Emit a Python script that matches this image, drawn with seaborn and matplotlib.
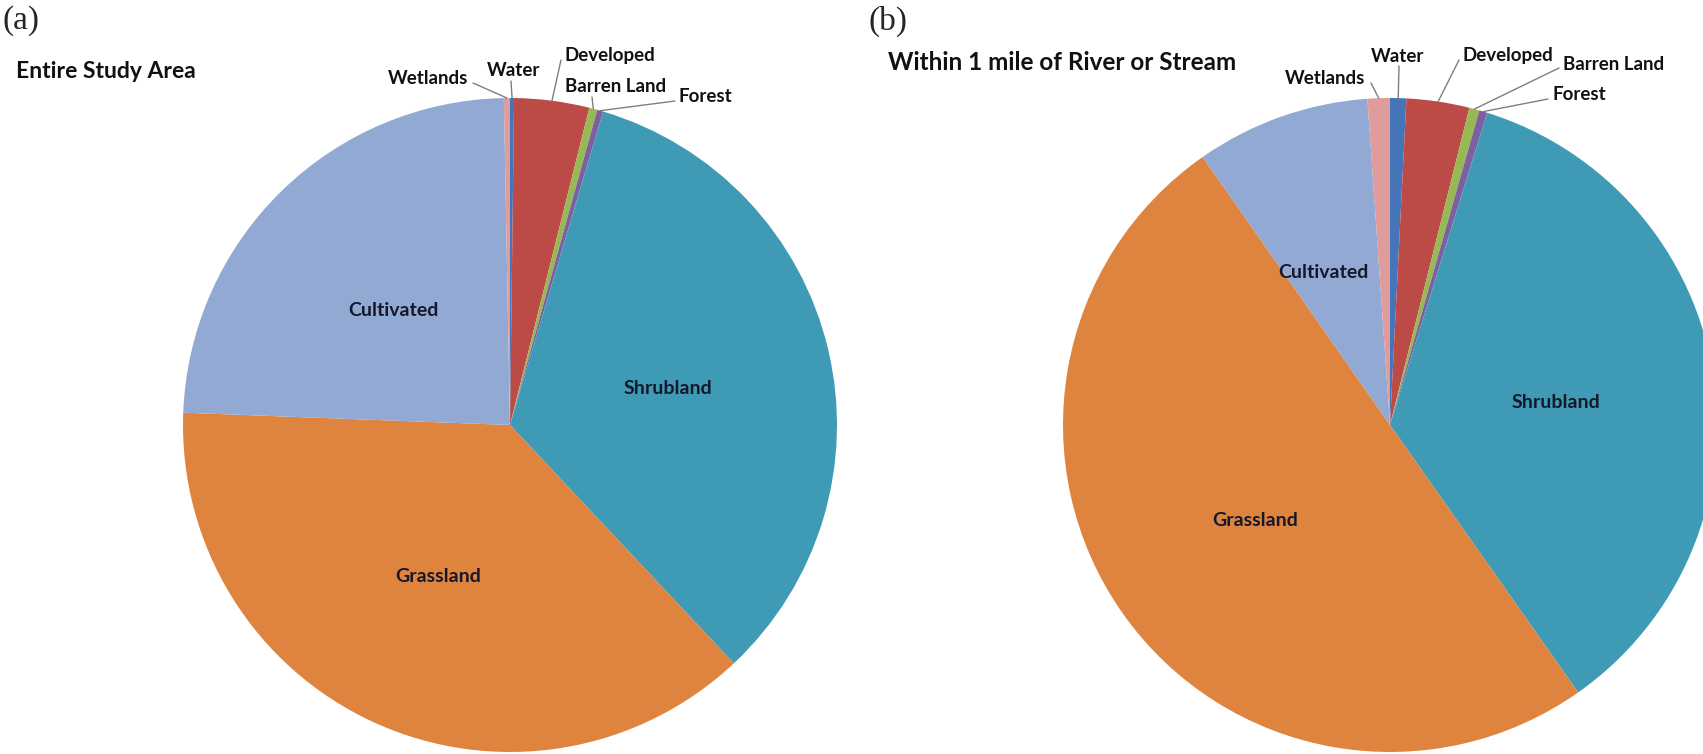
import numpy as np
import seaborn as sns
import matplotlib
matplotlib.use("Agg")
from matplotlib import pyplot as plt

# Land cover shares (%), clockwise from 12 o'clock
categories = ["Water", "Developed", "Barren Land", "Forest",
              "Shrubland", "Grassland", "Cultivated", "Wetlands"]
entire_area = [0.2, 3.7, 0.4, 0.3, 33.4, 37.6, 24.1, 0.3]
near_river = [0.8, 3.1, 0.5, 0.4, 35.4, 50.0, 8.6, 1.1]

colors = ["#4674B8", "#BC4A47", "#97B954", "#7D60A0",
          "#3F9BB5", "#DF843E", "#92A9D3", "#DE9C9C"]

W, H = 1703, 754

sns.set_style("white")
plt.rcParams['font.family'] = ['Lato', 'DejaVu Sans']

fig = plt.figure(figsize=(W / 100, H / 100), dpi=100)
ax = fig.add_axes([0, 0, 1, 1])


def edge_point(values, name, cx, cy, r):
    # point on the rim at the middle of the wedge (clockwise from top)
    v = np.array(values, dtype=float)
    frac = np.cumsum(v) / v.sum()
    i = categories.index(name)
    mid = (frac[i] - v[i] / v.sum() / 2) * 2 * np.pi
    return cx + r * np.sin(mid), cy + r * np.cos(mid)


def draw_pie(values, cx, cy, r, inside, outside):
    cy = H - cy
    ax.pie(values, colors=colors, startangle=90, counterclock=False,
           center=(cx, cy), radius=r, frame=True,
           wedgeprops=dict(linewidth=0))
    for name, tx, ty in inside:
        ax.text(tx, H - ty, name, ha='center', va='center',
                fontsize=14, fontweight='bold', color='#14182a')
    for name, tx, ty, ha, lx, ly in outside:
        ax.text(tx, H - ty, name, ha=ha, va='center',
                fontsize=13.5, fontweight='bold', color='#111111')
        px, py = edge_point(values, name, cx, cy, r)
        ax.plot([lx, px], [H - ly, py], color='#7f7f7f', lw=1.0,
                clip_on=False)


draw_pie(entire_area, 510, 425, 327,
         inside=[("Cultivated", 393, 311), ("Shrubland", 668, 389),
                 ("Grassland", 438, 577)],
         outside=[("Wetlands", 468, 78, 'right', 473, 83),
                  ("Water", 514, 71, 'center', 511, 81),
                  ("Developed", 565, 56, 'left', 561, 60),
                  ("Barren Land", 565, 87, 'left', 592, 97),
                  ("Forest", 678, 97, 'left', 675, 101)])

draw_pie(near_river, 1390, 425, 327,
         inside=[("Cultivated", 1323, 273), ("Shrubland", 1556, 402),
                 ("Grassland", 1255, 521)],
         outside=[("Wetlands", 1365, 79, 'right', 1371, 83),
                  ("Water", 1398, 56, 'center', 1399, 66),
                  ("Developed", 1463, 56, 'left', 1459, 60),
                  ("Barren Land", 1563, 64, 'left', 1559, 68),
                  ("Forest", 1552, 95, 'left', 1548, 99)])

# titles and panel letters
ax.text(16, H - 72, "Entire Study Area", ha='left', va='center',
        fontsize=16.5, fontweight='bold', color='#111111')
ax.text(888, H - 63, "Within 1 mile of River or Stream", ha='left',
        va='center', fontsize=17.5, fontweight='bold', color='#111111')
ax.text(2, H - 21, "(a)", ha='left', va='center', fontsize=24,
        family='Liberation Serif')
ax.text(869, H - 21, "(b)", ha='left', va='center', fontsize=24,
        family='Liberation Serif')

ax.set_xlim(0, W)
ax.set_ylim(0, H)
ax.set_aspect('auto')
ax.axis('off')

fig.savefig("out.png", dpi=100)
